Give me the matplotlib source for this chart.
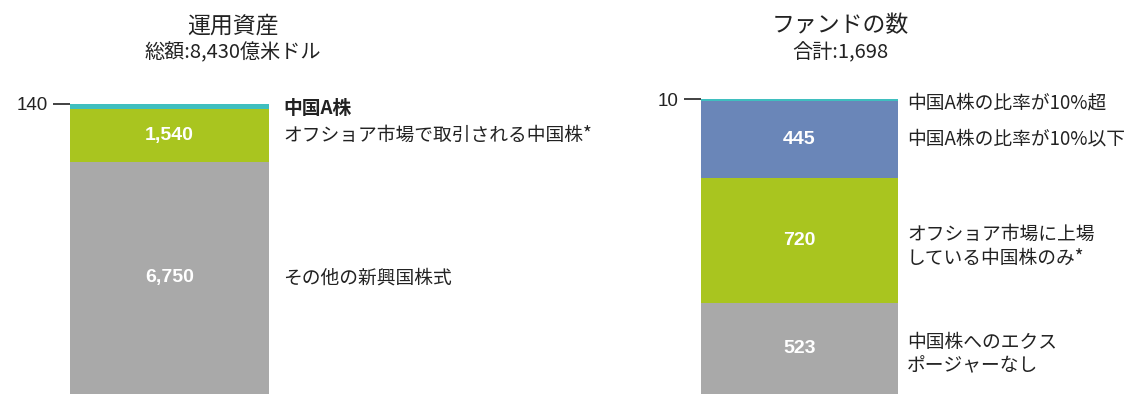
import matplotlib.pyplot as plt
import matplotlib.transforms as mtransforms

plt.rcParams['font.family'] = ['Noto Sans CJK JP', 'DejaVu Sans']

# left chart: assets under management (100m USD)
aum_labels = ['その他の新興国株式', 'オフショア市場で取引される中国株*', '中国A株']
aum_values = [6750, 1540, 140]
aum_colors = ['#a9a9a9', '#a9c51f', '#3fbfbf']

# right chart: number of funds
fund_labels = ['中国株へのエクス\nポージャーなし', 'オフショア市場に上場\nしている中国株のみ*',
               '中国A株の比率が10%以下', '中国A株の比率が10%超']
fund_values = [523, 720, 445, 10]
fund_colors = ['#a9a9a9', '#a9c51f', '#6a86b8', '#3fbfbf']

W, H = 1143, 394
fig = plt.figure(figsize=(W / 100, H / 100), dpi=100)
fig.set_facecolor('white')
txt = '#222222'


def stacked(ax_rect, values, labels, colors, label_x, title, subtitle, title_x, bold_top):
    ax = fig.add_axes(ax_rect)
    total = sum(values)
    bottom = 0
    mids = []
    for v, c in zip(values, colors):
        ax.bar(0, v, bottom=bottom, width=1.0, color=c, edgecolor='none')
        mids.append(bottom + v / 2)
        bottom += v
    ax.set_xlim(-0.5, 0.5)
    ax.set_ylim(0, total)
    for s in ax.spines.values():
        s.set_visible(False)
    ax.set_xticks([])
    ax.set_yticks([total])
    ax.set_yticklabels([f'{values[-1]:,}'], family='Liberation Sans', fontsize=13.5, color=txt)
    ax.tick_params(axis='y', length=12, width=1.3, color='#333333', pad=4)

    # values inside bar (skip the thin top slice)
    for v, m in zip(values[:-1], mids[:-1]):
        ax.text(0, m, f'{v:,}', ha='center', va='center', color='white',
                fontsize=14, fontweight='bold', family='Liberation Sans')

    # category labels to the right
    tr = mtransforms.blended_transform_factory(fig.transFigure, ax.transData)
    n = len(values)
    for i, (lab, m) in enumerate(zip(labels, mids)):
        top = i == n - 1
        y = total if top else m
        dy = -3 if top else (-4 if '\n' in lab else 0)
        ax.annotate(lab, xy=(label_x, y), xycoords=tr, xytext=(0, dy),
                    textcoords='offset points', ha='left', va='center',
                    fontsize=13.5, color=txt, linespacing=1.2,
                    fontweight='bold' if (top and bold_top) else 'normal',
                    annotation_clip=False)

    fig.text(title_x, 0.934, title, ha='center', va='center', fontsize=16.5, color=txt)
    fig.text(title_x, 0.865, subtitle, ha='center', va='center', fontsize=14.5, color=txt)
    return ax


stacked([70 / W, 0, 199 / W, (H - 104) / H], aum_values, aum_labels, aum_colors,
        283 / W, '運用資産', '総額:8,430億米ドル', 233 / W, True)
stacked([701 / W, 0, 197 / W, (H - 99) / H], fund_values, fund_labels, fund_colors,
        907 / W, 'ファンドの数', '合計:1,698', 840 / W, False)

fig.savefig('out.png', dpi=100, facecolor='white')
